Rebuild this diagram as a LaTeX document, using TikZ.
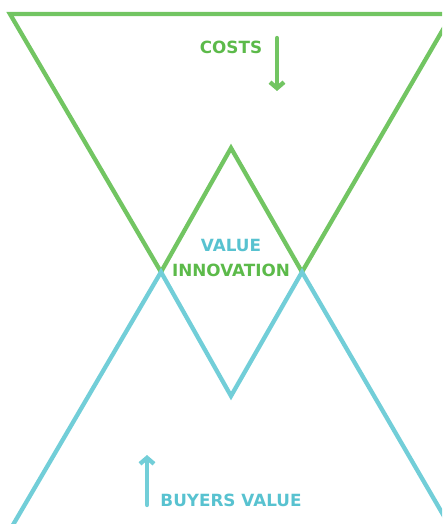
\documentclass[tikz,border=0pt]{standalone}
\usepackage{fontspec}
\setmainfont{DejaVu Sans}
\usepackage{tikz}
\usetikzlibrary{arrows.meta}
\definecolor{costgreen}{RGB}{114,197,98}
\definecolor{costtext}{RGB}{92,186,74}
\definecolor{valuecyan}{RGB}{114,206,216}
\definecolor{valuetext}{RGB}{88,194,208}
\tikzset{
  lbl/.style={font=\bfseries\fontsize{16.8}{20}\selectfont, inner sep=0pt},
  band/.style={line width=4.3pt, line join=miter}
}
\begin{document}
\begin{tikzpicture}[x=1pt, y=-1pt, line cap=round,
      >={Straight Barb[length=6pt, width=14pt]}]
      \useasboundingbox (0,0) rectangle (442,524);
      \clip (0,0) rectangle (442,524);
      % costs band and value band
      \draw [band, costgreen] (10,14) -- (452,14) -- (302,272) -- (231,148) -- (161,272) -- cycle;
      \draw [band, valuecyan] (10,530) -- (452,530) -- (302,272) -- (231,396) -- (161,272) -- cycle;
      % labels
      \node [lbl, text=costtext] (costs) at (231,47) {COSTS};
      \node [lbl, text=valuetext] (value) at (231,245) {VALUE};
      \node [lbl, text=costtext] (innovation) at (231,270) {INNOVATION};
      \node [lbl, text=valuetext] (buyers) at (231,500) {BUYERS VALUE};
      % arrows
      \coordinate (costs top) at (277,38);
      \coordinate (costs end) at (277,91);
      \coordinate (buyers bottom) at (147,505);
      \coordinate (buyers end) at (147,455);
      \draw [->, costgreen, line width=4.3pt] (costs top) -- (costs end);
      \draw [->, valuecyan, line width=4.3pt] (buyers bottom) -- (buyers end);
    \end{tikzpicture}
\end{document}
